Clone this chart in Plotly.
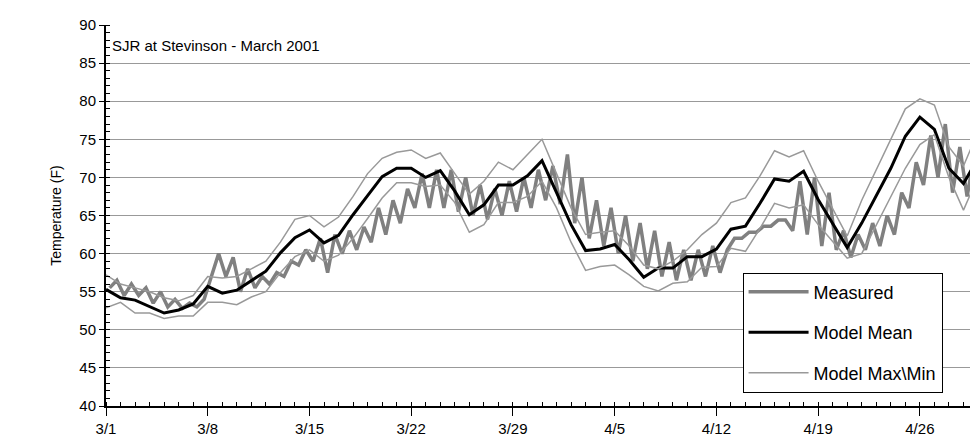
import pandas as pd
import plotly.graph_objects as go

start = pd.Timestamp('2001-03-01')

model_mean = [55.3, 54.2, 53.9, 53.1, 52.2, 52.6, 53.4, 55.7, 54.8, 55.2, 56.4, 57.7, 60.1, 62.1, 63.1,
              61.4, 62.4, 65.1, 67.6, 70.1, 71.2, 71.2, 70.0, 70.9, 68.2, 65.1, 66.4, 69.0, 69.0, 70.2,
              72.2, 68.0, 63.8, 60.4, 60.6, 61.2, 59.2, 56.9, 58.1, 58.1, 59.6, 59.6, 60.6, 63.2, 63.6,
              66.6, 69.8, 69.5, 70.8, 67.1, 64.0, 60.8, 64.0, 67.5, 71.2, 75.4, 77.9, 76.3, 71.2, 69.2, 72.5]
model_max = [57.2, 56.0, 55.5, 55.0, 54.2, 53.8, 54.5, 57.0, 56.8, 57.0, 58.0, 59.0, 61.5, 64.5, 65.0,
             63.5, 64.8, 67.5, 70.5, 72.5, 73.3, 73.6, 72.5, 73.2, 70.5, 67.8, 69.5, 72.0, 71.0, 73.0,
             75.0, 70.5, 66.0, 62.5, 62.8, 63.0, 61.0, 58.5, 58.0, 59.0, 60.5, 62.5, 64.0, 66.7, 67.3,
             70.2, 73.5, 72.7, 73.5, 69.5, 66.0, 62.3, 67.0, 71.0, 75.0, 79.0, 80.3, 79.5, 74.0, 71.5, 76.0]
model_min = [52.9, 53.6, 52.2, 52.2, 51.5, 51.8, 51.8, 53.6, 53.6, 53.3, 54.3, 55.0, 57.5, 59.6, 60.5,
             59.0, 59.8, 62.0, 64.6, 67.3, 69.3, 69.3, 68.8, 69.0, 66.7, 62.8, 63.8, 66.7, 66.7, 67.5,
             69.5, 66.0, 61.5, 57.8, 58.3, 58.5, 57.2, 55.7, 55.1, 56.1, 56.3, 58.2, 58.3, 60.7, 60.3,
             63.3, 66.6, 66.0, 66.4, 63.8, 61.6, 59.4, 60.0, 63.8, 67.5, 71.2, 74.3, 75.6, 70.0, 65.7, 70.1]

# measured daily low / high
meas_low = [55.5, 54.5, 54.5, 53.5, 53.0, 52.8, 53.0, 57.0, 57.0, 55.0, 55.5, 56.0, 57.0, 58.5, 59.0,
            57.5, 60.0, 60.5, 61.5, 62.5, 64.0, 66.0, 66.0, 66.0, 65.5, 65.0, 64.5, 65.0, 65.5, 66.0,
            67.0, 66.5, 64.0, 62.0, 61.0, 60.0, 59.0, 58.0, 57.0, 56.5, 56.5, 57.0, 57.5, 62.0, 62.8,
            63.6, 64.4, 63.0, 62.5, 61.0, 60.5, 59.5, 60.5, 61.0, 62.5, 66.0, 69.0, 70.0, 68.0, 67.5, 68.0]
meas_high = [56.5, 56.0, 55.5, 55.0, 54.0, 53.5, 54.0, 60.0, 59.5, 58.0, 57.0, 57.5, 59.0, 60.5, 62.0,
             62.5, 63.0, 63.5, 66.0, 67.0, 68.5, 70.5, 71.0, 71.0, 70.0, 69.0, 68.5, 69.5, 70.0, 71.0,
             71.5, 73.0, 70.0, 67.0, 66.0, 65.0, 64.0, 63.0, 61.5, 60.5, 60.5, 61.0, 60.5, 62.0, 62.8,
             63.6, 64.4, 69.5, 70.0, 68.0, 63.0, 62.5, 64.0, 65.0, 68.0, 72.0, 75.5, 77.0, 74.0, 73.0, 74.0]

days = [start + pd.Timedelta(days=i) for i in range(len(model_mean))]
meas_x, meas_y = [], []
for i, (lo, hi) in enumerate(zip(meas_low, meas_high)):
    meas_x += [start + pd.Timedelta(hours=24 * i + 6), start + pd.Timedelta(hours=24 * i + 18)]
    meas_y += [lo, hi]

fig = go.Figure()
fig.add_trace(go.Scatter(x=meas_x, y=meas_y, mode='lines', name='Measured',
                         line=dict(color='#808080', width=3.5)))
fig.add_trace(go.Scatter(x=days, y=model_mean, mode='lines', name='Model Mean',
                         line=dict(color='black', width=3)))
fig.add_trace(go.Scatter(x=days, y=model_max, mode='lines', name='Model Max\\Min',
                         line=dict(color='#999999', width=1.5), legendgroup='mm'))
fig.add_trace(go.Scatter(x=days, y=model_min, mode='lines', showlegend=False,
                         line=dict(color='#999999', width=1.5), legendgroup='mm'))

fig.add_annotation(text='SJR at Stevinson - March 2001', xref='paper', yref='paper',
                   x=0.005, y=0.975, xanchor='left', yanchor='top', showarrow=False,
                   font=dict(size=15, color='black'))

fig.update_layout(
    width=978, height=444,
    margin=dict(l=98, r=8, t=14, b=46),
    plot_bgcolor='white', paper_bgcolor='white',
    font=dict(family='Liberation Sans, Arial', size=15, color='black'),
    legend=dict(x=0.73, y=0.35, xanchor='left', yanchor='top', bgcolor='white',
                bordercolor='black', borderwidth=1, font=dict(size=18),
                itemwidth=60, tracegroupgap=14),
    xaxis=dict(range=[start, start + pd.Timedelta(days=60)], tickformat='%-m/%-d',
               tickvals=[start + pd.Timedelta(days=7 * k) for k in range(9)],
               showgrid=False, showline=True, linecolor='black', linewidth=2,
               ticks='outside', ticklen=8, tickcolor='black',
               minor=dict(dtick=86400000, ticks='inside', ticklen=4, tickcolor='black')),
    yaxis=dict(range=[40, 90], dtick=5,
               title=dict(text='Temperature (F)', standoff=14, font=dict(size=14)),
               showgrid=True, gridcolor='#999999', showline=True, linecolor='black', linewidth=2,
               ticks='outside', ticklen=5, tickcolor='black', zeroline=False,
               minor=dict(dtick=1, ticks='inside', ticklen=4, tickcolor='black')),
)

fig.write_html('out.html')
